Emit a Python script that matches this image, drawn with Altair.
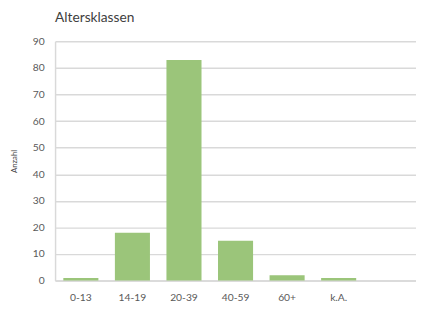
import altair as alt
import pandas as pd

categories = ["0-13", "14-19", "20-39", "40-59", "60+", "k.A."]
counts = [1, 18, 83, 15, 2, 1]

df = pd.DataFrame({"Altersklasse": categories, "Anzahl": counts})

domain = categories + [" "]

chart = alt.Chart(df).mark_bar(color="#9BC57A").encode(
    x=alt.X("Altersklasse:N", sort=domain,
            scale=alt.Scale(domain=domain, paddingInner=0.32, paddingOuter=0.16),
            axis=alt.Axis(title=None, labelAngle=0, ticks=False, labelPadding=12,
                          domainColor="#D9D9D9", domainWidth=1.5,
                          labelColor="#595959", labelFont="Lato", labelFontSize=10.5)),
    y=alt.Y("Anzahl:Q", scale=alt.Scale(domain=[0, 90]),
            axis=alt.Axis(title="Anzahl", values=list(range(0, 91, 10)), ticks=False,
                          labelPadding=11, domainColor="#D9D9D9", domainWidth=1.5,
                          gridColor="#D9D9D9", gridWidth=1.5,
                          labelColor="#595959", labelFont="Lato", labelFontSize=10.5,
                          titleFont="Lato", titleFontSize=8, titleFontWeight="normal",
                          titleColor="#404040", titlePadding=14)),
).properties(
    width=368, height=244,
    title=alt.TitleParams("Altersklassen", anchor="start", frame="group", font="Lato",
                          fontSize=14, fontWeight="normal", color="#404040", offset=12),
    autosize=alt.AutoSizeParams(type="none"),
    padding={"left": 48, "top": 31, "right": 0, "bottom": 26},
).configure_view(stroke=None)

chart.save("out.html", embed_options={"renderer": "svg", "actions": False})
